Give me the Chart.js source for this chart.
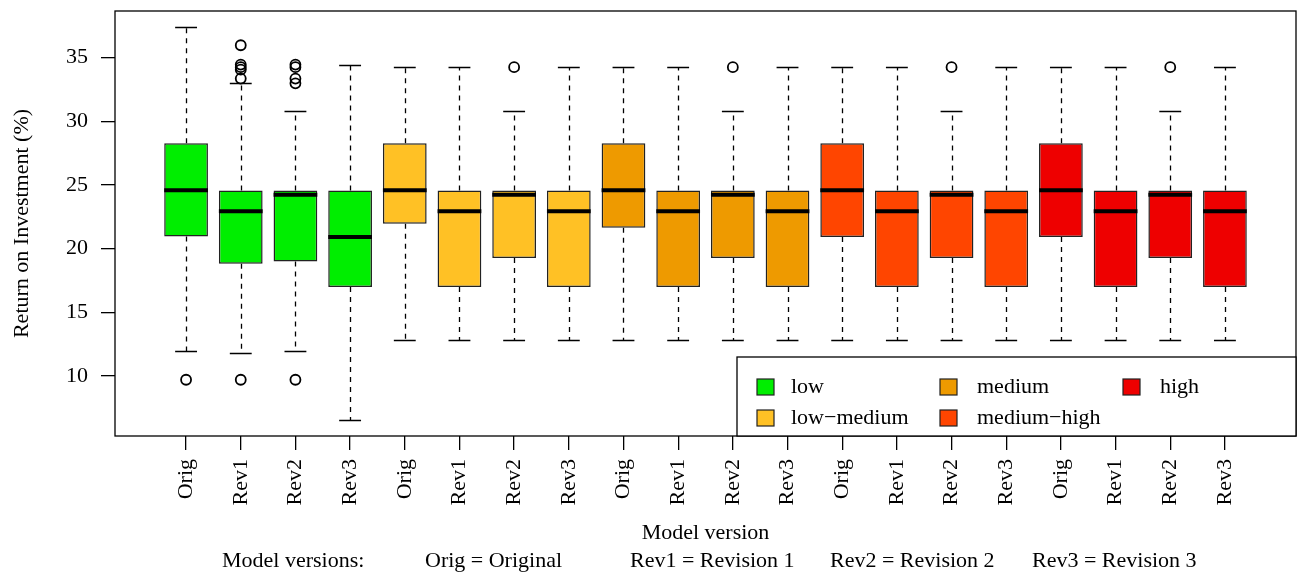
<!DOCTYPE html>
<html>
<head>
<meta charset="utf-8">
<script src="https://cdn.jsdelivr.net/npm/chart.js@4.4.1/dist/chart.umd.min.js"></script>
<style>
  html, body { margin: 0; padding: 0; background: #fff; }
  #wrap { width: 1306px; height: 574px; }
</style>
</head>
<body>
<div id="wrap"><canvas id="roi-chart" width="1306" height="574"></canvas></div>
<script>
// ROI distribution per stocking group and model version
const groups = ["low", "low\u2212medium", "medium", "medium\u2212high", "high"];
const groupColors = ["#00EE00", "#FFC125", "#EE9A00", "#FF4500", "#EE0000"];
const versions = ["Orig", "Rev1", "Rev2", "Rev3"];

// five-number summaries, one entry per box (group-major, version-minor)
const whiskerLow = [11.93, 11.83, 11.92, 6.51,
                    12.78, 12.78, 12.78, 12.78,
                    12.78, 12.78, 12.78, 12.78,
                    12.78, 12.78, 12.78, 12.78,
                    12.78, 12.78, 12.78, 12.78];
const quart1 = [20.94, 18.80, 18.98, 16.98,
                21.95, 16.98, 19.25, 16.98,
                21.64, 16.98, 19.25, 16.98,
                20.90, 16.98, 19.25, 16.98,
                20.90, 16.98, 19.25, 16.98];
const medians = [24.58, 22.92, 24.22, 20.91,
                 24.58, 22.92, 24.22, 22.92,
                 24.58, 22.92, 24.22, 22.92,
                 24.58, 22.92, 24.22, 22.92,
                 24.58, 22.92, 24.22, 22.92];
const quart3 = [28.27, 24.56, 24.56, 24.56,
                28.27, 24.56, 24.56, 24.56,
                28.27, 24.56, 24.56, 24.56,
                28.27, 24.56, 24.56, 24.56,
                28.27, 24.56, 24.56, 24.56];
const whiskerHigh = [37.42, 33.00, 30.83, 34.41,
                     34.25, 34.25, 30.83, 34.25,
                     34.25, 34.25, 30.83, 34.25,
                     34.25, 34.25, 30.83, 34.25,
                     34.25, 34.25, 30.83, 34.25];

// outliers: box number (1-based) and value
const outlierBox = [1, 2, 2, 2, 2, 2, 2, 3, 3, 3, 3, 3, 7, 11, 15, 19];
const outlierValue = [9.69, 9.69, 33.35, 34.05, 34.25, 34.45, 35.97,
                      9.69, 32.98, 33.35, 34.25, 34.45,
                      34.25, 34.25, 34.25, 34.25];

const yTicks = [10, 15, 20, 25, 30, 35];
const yRange = [5.27, 38.66];
const xRange = [-0.3, 21.3];

const noteLabels = ["Model versions:", "Orig = Original", "Rev1 = Revision 1",
                    "Rev2 = Revision 2", "Rev3 = Revision 3"];

const serif = "'Liberation Serif', 'DejaVu Serif', serif";
Chart.defaults.font.family = serif;
Chart.defaults.font.size = 22;
Chart.defaults.color = "#000";

const boxCount = groups.length * versions.length;
const boxPositions = Array.from({ length: boxCount }, (_, i) => i + 1);

const boxDatasets = groups.map((name, g) => ({
  type: "bar",
  label: name,
  data: versions.map((_, v) => {
    const i = g * versions.length + v;
    return { x: boxPositions[i], y: [quart1[i], quart3[i]] };
  }),
  backgroundColor: groupColors[g],
  borderColor: "#222",
  borderWidth: 1.5,
  borderSkipped: false,
  grouped: false,
  barPercentage: 0.8,
  categoryPercentage: 1,
  order: 2
}));

const outlierDataset = {
  type: "scatter",
  label: "outliers",
  data: outlierBox.map((b, k) => ({ x: b, y: outlierValue[k] })),
  pointStyle: "circle",
  pointRadius: 5,
  pointBorderWidth: 1.8,
  pointBorderColor: "#000",
  pointBackgroundColor: "rgba(0,0,0,0)",
  order: 1
};

// whiskers, staples and median bars, placed through the chart scales
const boxWhiskers = {
  id: "boxWhiskers",
  beforeDatasetsDraw(chart) {
    const { ctx, scales: { x, y } } = chart;
    ctx.save();
    ctx.strokeStyle = "#000";
    boxPositions.forEach((pos, i) => {
      const cx = Math.round(x.getPixelForValue(pos)) + 0.5;
      ctx.lineWidth = 1.3;
      ctx.setLineDash([5, 5]);
      ctx.beginPath();
      ctx.moveTo(cx, y.getPixelForValue(quart3[i]));
      ctx.lineTo(cx, y.getPixelForValue(whiskerHigh[i]));
      ctx.moveTo(cx, y.getPixelForValue(quart1[i]));
      ctx.lineTo(cx, y.getPixelForValue(whiskerLow[i]));
      ctx.stroke();
      ctx.setLineDash([]);
      ctx.lineWidth = 1.6;
      ctx.beginPath();
      [whiskerHigh[i], whiskerLow[i]].forEach((v) => {
        const py = Math.round(y.getPixelForValue(v)) + 0.5;
        ctx.moveTo(x.getPixelForValue(pos - 0.2), py);
        ctx.lineTo(x.getPixelForValue(pos + 0.2), py);
      });
      ctx.stroke();
    });
    ctx.restore();
  },
  afterDatasetsDraw(chart) {
    const { ctx, scales: { x, y } } = chart;
    ctx.save();
    ctx.strokeStyle = "#000";
    ctx.lineWidth = 4;
    ctx.beginPath();
    boxPositions.forEach((pos, i) => {
      const py = y.getPixelForValue(medians[i]);
      ctx.moveTo(x.getPixelForValue(pos - 0.4), py);
      ctx.lineTo(x.getPixelForValue(pos + 0.4), py);
    });
    ctx.stroke();
    ctx.restore();
  }
};

// plot frame, legend box and the version note under the axis
const frameAndNotes = {
  id: "frameAndNotes",
  afterDraw(chart) {
    const { ctx, chartArea: a } = chart;
    ctx.save();
    ctx.strokeStyle = "#000";
    ctx.lineWidth = 1.3;
    ctx.strokeRect(a.left, a.top, a.right - a.left, a.bottom - a.top);

    // legend
    const lx = 737, ly = 357;
    ctx.fillStyle = "#fff";
    ctx.fillRect(lx, ly, a.right - lx, a.bottom - ly);
    ctx.strokeRect(lx, ly, a.right - lx, a.bottom - ly);
    const colSquare = [757, 940, 1123];
    const colText = [791, 977, 1160];
    const rowY = [387, 418];
    ctx.font = "22px " + serif;
    ctx.textBaseline = "middle";
    ctx.textAlign = "left";
    groups.forEach((name, g) => {
      const col = Math.floor(g / 2), row = g % 2;
      ctx.fillStyle = groupColors[g];
      ctx.fillRect(colSquare[col], rowY[row] - 8, 17, 16);
      ctx.strokeStyle = "#222";
      ctx.lineWidth = 1.2;
      ctx.strokeRect(colSquare[col], rowY[row] - 8, 17, 16);
      ctx.fillStyle = "#000";
      ctx.fillText(name, colText[col], rowY[row]);
    });

    // version key
    const noteX = [222, 425, 630, 830, 1032];
    noteLabels.forEach((t, k) => ctx.fillText(t, noteX[k], 561));
    ctx.restore();
  }
};

const noEdgePadding = (axis) => {
  axis.paddingTop = 0;
  axis.paddingBottom = 0;
  axis.paddingLeft = 0;
  axis.paddingRight = 0;
};

new Chart(document.getElementById("roi-chart"), {
  data: { datasets: [...boxDatasets, outlierDataset] },
  options: {
    responsive: false,
    devicePixelRatio: 1,
    animation: false,
    layout: { padding: { left: 0, top: 11, right: 10, bottom: 0 } },
    plugins: { legend: { display: false }, tooltip: { enabled: false } },
    scales: {
      x: {
        type: "linear",
        offset: false,
        min: xRange[0],
        max: xRange[1],
        afterBuildTicks: (axis) => { axis.ticks = boxPositions.map((v) => ({ value: v })); },
        afterFit: (axis) => { axis.height = 138; noEdgePadding(axis); },
        grid: { offset: false, drawOnChartArea: false, drawTicks: true, tickLength: 14, color: "#000", lineWidth: 1.3 },
        border: { display: false },
        ticks: {
          autoSkip: false,
          maxRotation: 90,
          minRotation: 90,
          padding: 9,
          callback: (value, index) => versions[index % versions.length]
        },
        title: { display: true, text: "Model version", padding: { top: 0, bottom: 28 } }
      },
      y: {
        type: "linear",
        min: yRange[0],
        max: yRange[1],
        afterBuildTicks: (axis) => { axis.ticks = yTicks.map((v) => ({ value: v })); },
        afterFit: (axis) => { axis.width = 115; noEdgePadding(axis); },
        grid: { drawOnChartArea: false, drawTicks: true, tickLength: 14, color: "#000", lineWidth: 1.3 },
        border: { display: false },
        ticks: { padding: 13 },
        title: { display: true, text: "Return on Investment (%)", padding: { top: 9, bottom: 0 } }
      }
    }
  },
  plugins: [boxWhiskers, frameAndNotes]
});
</script>
</body>
</html>
